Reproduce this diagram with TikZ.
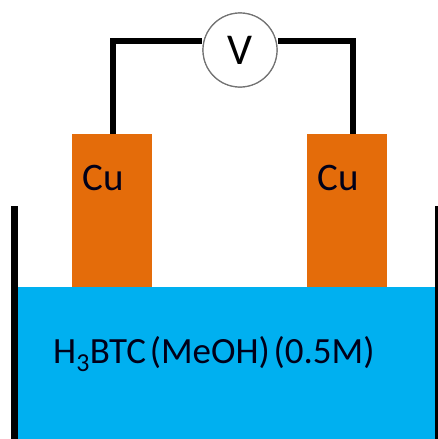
\documentclass[tikz,border=0pt]{standalone}
\usepackage{fontspec}
\setmainfont[WordSpace=0.45]{Carlito}
\definecolor{cu}{HTML}{E46C0A}
\definecolor{bath}{HTML}{00B0F0}
\tikzset{
  x=1pt,y=-1pt,
  electrode/.style={fill=cu,draw=none,minimum width=80pt,minimum height=153pt,inner sep=0pt},
  wire/.style={draw=black,line width=6pt},
  wall/.style={draw=black,line width=7pt},
  meter/.style={circle,draw=black!55,fill=white,line width=1.2pt,minimum size=74pt,inner sep=0pt,font=\fontsize{44}{44}\selectfont},
  lbl/.style={font=\fontsize{37}{40}\selectfont,text=black!90!blue,inner sep=0pt},
  culbl/.style={font=\fontsize{39}{40}\selectfont,text=black!90!blue,inner sep=0pt}
}
\begin{document}
\begin{tikzpicture}
\useasboundingbox (0,0) rectangle (438,439);
\fill[white] (0,0) rectangle (438,439);
\node[electrode] (cuL) at (112,210.5) {};
\node[electrode] (cuR) at (346.5,210.5) {};
\fill[bath] (18,287) rectangle (436,439);
\coordinate (wallLtop) at (14.5,206);
\coordinate (wallLbot) at (14.5,439);
\coordinate (wallRtop) at (438,206);
\coordinate (wallRbot) at (438,439);
\draw[wall] (wallLtop) -- (wallLbot);
\draw[wall] (wallRtop) -- (wallRbot);
\node[meter] (V) at (240,50) {V};
\coordinate (cornerL) at (113,41);
\coordinate (cornerR) at (352.5,41);
\coordinate (footL) at (113,134);
\coordinate (footR) at (352.5,134);
\draw[wire] (footL) -- (cornerL) -- (V.west |- cornerL);
\draw[wire] (footR) -- (cornerR) -- (V.east |- cornerR);
\node[meter] at (240,50) {V};
\node[culbl] (t1) at (103.5,178) {Cu};
\node[culbl] (t2) at (338.5,178) {Cu};
\node[lbl,anchor=west] (t3) at (53,354) {H\textsubscript{3}BTC (MeOH) (0.5M)};
\end{tikzpicture}
\end{document}
